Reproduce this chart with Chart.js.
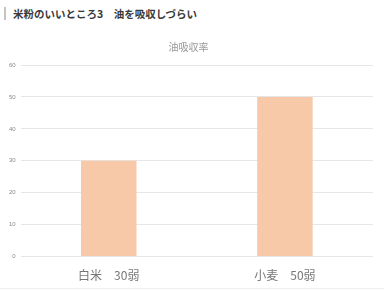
<!DOCTYPE html>
<html><head><meta charset="utf-8">
<script src="https://cdn.jsdelivr.net/npm/chart.js@4/dist/chart.umd.min.js"></script>
<style>
html,body{margin:0;padding:0;background:#fff;width:384px;height:290px;overflow:hidden;font-family:"Noto Sans CJK JP","Noto Sans",sans-serif;}
#h{position:absolute;left:4px;top:7px;height:13px;border-left:2px solid #c4c4c4;padding-left:7px;font-size:10.5px;font-weight:bold;color:#3a3a3a;line-height:13px;white-space:nowrap;}
#wrap{position:absolute;left:0;top:36px;width:384px;height:251px;}
#line{position:absolute;left:0;top:288px;width:384px;height:1px;background:#eee;}
</style></head><body>
<div id="h">米粉のいいところ3　油を吸収しづらい</div>
<div id="wrap"><canvas id="c"></canvas></div>
<div id="line"></div>
<script>
const categories = ["白米　30弱", "小麦　50弱"];
const absorption = [30, 50];
const titleText = "油吸収率";
const yMin = 0, yMax = 60, yStep = 10;

new Chart(document.getElementById('c'), {
  type: 'bar',
  data: {
    labels: categories,
    datasets: [{
      label: titleText,
      data: absorption,
      backgroundColor: '#f8c9a9',
      borderWidth: 0,
      barPercentage: 0.315,
      categoryPercentage: 1
    }]
  },
  options: {
    responsive: true,
    maintainAspectRatio: false,
    animation: false,
    layout: { padding: { left: 4, right: 11, top: 0, bottom: 0 } },
    plugins: {
      legend: { display: false },
      tooltip: { enabled: false },
      title: {
        display: true, text: titleText, color: '#999',
        font: { size: 10, family: '"Noto Sans CJK JP"', weight: 'normal' },
        padding: { top: 5, bottom: 12 }
      }
    },
    scales: {
      x: {
        grid: { display: false },
        border: { display: false },
        ticks: { color: '#777', font: { size: 12, family: '"Noto Sans CJK JP"' }, padding: 4 }
      },
      y: {
        min: yMin, max: yMax,
        border: { display: false },
        grid: { color: '#e6e6e6', drawTicks: false },
        ticks: { stepSize: yStep, color: '#888', font: { size: 6 }, padding: 5 }
      }
    }
  }
});
</script>
</body></html>
